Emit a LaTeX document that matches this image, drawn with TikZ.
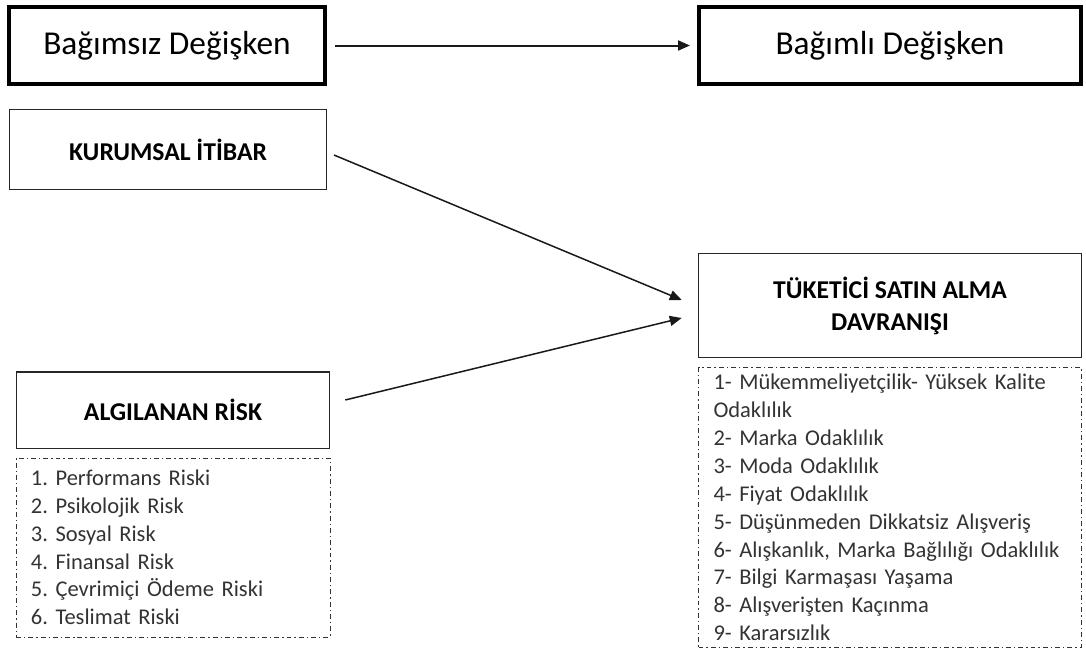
\documentclass[tikz,border=0pt]{standalone}
\usepackage{fontspec}
\setmainfont{Carlito}
\usetikzlibrary{arrows.meta,calc}
\def\pxu{0.02cm}
\frenchspacing
\tikzset{
	headbox/.style={draw=black, line width=0.08cm, minimum height=77*\pxu, inner sep=0pt, font=\fontsize{19}{23}\selectfont},
	varbox/.style={draw=black!85, line width=0.03cm, inner sep=0pt, align=center, font=\fontsize{14.6}{18.2}\selectfont\bfseries},
	listbox/.style={draw=black!80, line width=0.02cm, dash pattern=on 2.8pt off 1.7pt on 0.8pt off 1.7pt, inner xsep=15*\pxu, inner ysep=0pt, align=left, text=black!80, font=\fontsize{12.8}{15.85}\selectfont},
	arr/.style={-{Triangle[length=0.24cm, width=0.2cm]}, line width=0.03cm, draw=black!90}
}

\begin{document}
\begin{tikzpicture}[x=\pxu, y=-\pxu]
	%%%%% START %%%%%
	\useasboundingbox (0, 0) rectangle (1086, 653);

	\node[headbox, minimum width=316*\pxu] (bagimsiz) at (167, 45.5) {Bağımsız Değişken};
	\node[headbox, minimum width=382*\pxu] (bagimli) at (890, 45.5) {Bağımlı Değişken};
	\draw[arr, line width=0.04cm] ($(bagimsiz.east)+(8, 0)$) -- ($(bagimli.west)+(-7, 0)$);

	\node[varbox, minimum width=316.5*\pxu, minimum height=80*\pxu] (kurumsal) at (168, 149.5) {KURUMSAL İTİBAR};
	\node[varbox, minimum width=313*\pxu, minimum height=76.5*\pxu] (algilanan) at (173, 410) {ALGILANAN RİSK};
	\node[varbox, minimum width=383*\pxu, minimum height=104*\pxu] (tuketici) at (890, 305.5) {TÜKETİCİ SATIN ALMA\\DAVRANIŞI};

	\node[listbox, text width=284*\pxu, minimum height=179*\pxu] (risklist) at (173, 547.5) {%
		1. Performans Riski\\
		2. Psikolojik Risk\\
		3. Sosyal Risk\\
		4. Finansal Risk\\
		5. Çevrimiçi Ödeme Riski\\
		6. Teslimat Riski};
	\node[listbox, text width=353*\pxu, minimum height=280*\pxu] (davranislist) at (890, 507.5) {%
		\makebox[6.68cm][s]{1- Mükemmeliyetçilik- Yüksek Kalite}\\
		Odaklılık\\
		2- Marka Odaklılık\\
		3- Moda Odaklılık\\
		4- Fiyat Odaklılık\\
		5- Düşünmeden Dikkatsiz Alışveriş\\
		6- Alışkanlık, Marka Bağlılığı Odaklılık\\
		7- Bilgi Karmaşası Yaşama\\
		8- Alışverişten Kaçınma\\
		9- Kararsızlık};

	\draw[arr] ($(kurumsal.east)+(7, 5.5)$) -- ($(tuketici.west)+(-16, -5.5)$);
	\draw[arr] ($(algilanan.east)+(15, -10)$) -- ($(tuketici.west)+(-16, 12.5)$);
	%%%%% END %%%%%
\end{tikzpicture}
\end{document}
